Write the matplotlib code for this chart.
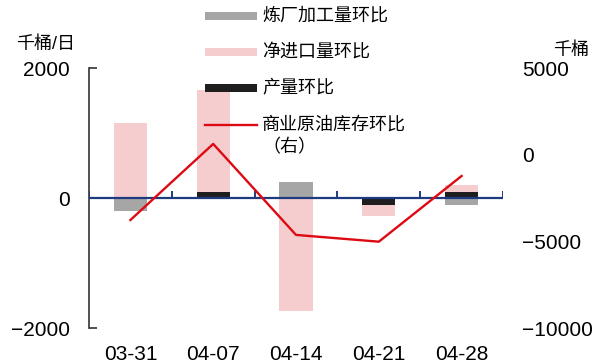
import numpy as np
import matplotlib
matplotlib.use("Agg")
import matplotlib.pyplot as plt
from matplotlib.patches import Rectangle
from matplotlib.lines import Line2D

plt.rcParams["font.family"] = ["Liberation Sans", "Noto Sans CJK SC", "DejaVu Sans"]
plt.rcParams["axes.unicode_minus"] = True

# Weekly changes (kb/d) and commercial crude inventory change (kb)
dates = ["03-31", "04-07", "04-14", "04-21", "04-28"]
refinery_runs = [-200, -20, 250, 0, -100]
net_imports = [1160, 1660, -1740, -280, 195]
production = [0, 90, 0, -100, 90]
inventory = [-3770, 620, -4630, -5020, -1230]

series_labels = ["炼厂加工量环比", "净进口量环比", "产量环比", "商业原油库存环比\n（右）"]
left_ticks = [-2000, 0, 2000]
right_ticks = [-10000, -5000, 0, 5000]

c_gray = "#A6A6A6"
c_pink = "#F5CDCE"
c_black = "#1E1E1E"
c_red = "#DD0A14"
c_navy = "#1F3A7E"

fig = plt.figure(figsize=(5.94, 3.64), dpi=100)
ax = fig.add_axes([89 / 594, 1 - 328 / 364, (503 - 89) / 594, 260 / 364])
ax2 = ax.twinx()

x = np.arange(len(dates))
w = 0.4
ax.bar(x, net_imports, width=w, color=c_pink, zorder=2)
ax.bar(x, refinery_runs, width=w, color=c_gray, zorder=3)
ax.bar(x, production, width=w, color=c_black, zorder=4)

ax.set_xlim(-0.5, len(dates) - 0.5)
ax.set_ylim(-2000, 2000)
ax.set_yticks(left_ticks)
ax.set_yticklabels([f"{v}".replace("-", "\u2212") for v in left_ticks])

# zero line with category boundary ticks
ax.axhline(0, color=c_navy, lw=1.6, zorder=5)
bounds = np.arange(len(dates) + 1) - 0.5
ax.vlines(bounds, 0.5, 0.5 + 7 / 260, transform=ax.get_xaxis_transform(),
          color=c_navy, lw=1.4, zorder=5)

for s in ["top", "right", "bottom"]:
    ax.spines[s].set_visible(False)
ax.spines["left"].set_color("#333333")
ax.spines["left"].set_linewidth(1.2)
ax.tick_params(axis="y", direction="in", length=6, width=1.2, color="#333333",
               labelsize=15, pad=14)
ax.set_xticks(x)
ax.set_xticklabels(dates)
ax.tick_params(axis="x", length=0, labelsize=15, pad=12)

ax2.plot(x, inventory, color=c_red, lw=1.7, zorder=6)
ax2.set_ylim(-10000, 5000)
ax2.set_yticks(right_ticks)
ax2.set_yticklabels([f"{v}".replace("-", "\u2212") for v in right_ticks])
for s in ax2.spines.values():
    s.set_visible(False)
ax2.tick_params(axis="y", length=0, labelsize=15, pad=14)

# unit labels
fig.text(46 / 594, 1 - 45 / 364, "千桶/日", fontsize=13, ha="center", va="center")
fig.text(571 / 594, 1 - 50 / 364, "千桶", fontsize=13, ha="center", va="center")

# legend
rows_y = [16, 52, 88, 125]
hx0, hx1 = 205, 257
for i, (lab, yy) in enumerate(zip(series_labels, rows_y)):
    yf = 1 - yy / 364
    if i < 3:
        col = [c_gray, c_pink, c_black][i]
        fig.add_artist(Rectangle((hx0 / 594, 1 - (yy + 4.3) / 364), (hx1 - hx0) / 594,
                                 8.6 / 364, transform=fig.transFigure,
                                 facecolor=col, edgecolor="none"))
    else:
        fig.add_artist(Line2D([hx0 / 594, hx1 / 594], [yf, yf], transform=fig.transFigure,
                              color=c_red, lw=1.7))
    if "\n" in lab:
        first, second = lab.split("\n")
        fig.text(262 / 594, yf, first, fontsize=13, ha="left", va="center")
        fig.text(262 / 594, 1 - (yy + 23) / 364, second, fontsize=13, ha="left", va="center")
    else:
        fig.text(262 / 594, yf, lab, fontsize=13, ha="left", va="center")

fig.savefig("out.png", dpi=100)
